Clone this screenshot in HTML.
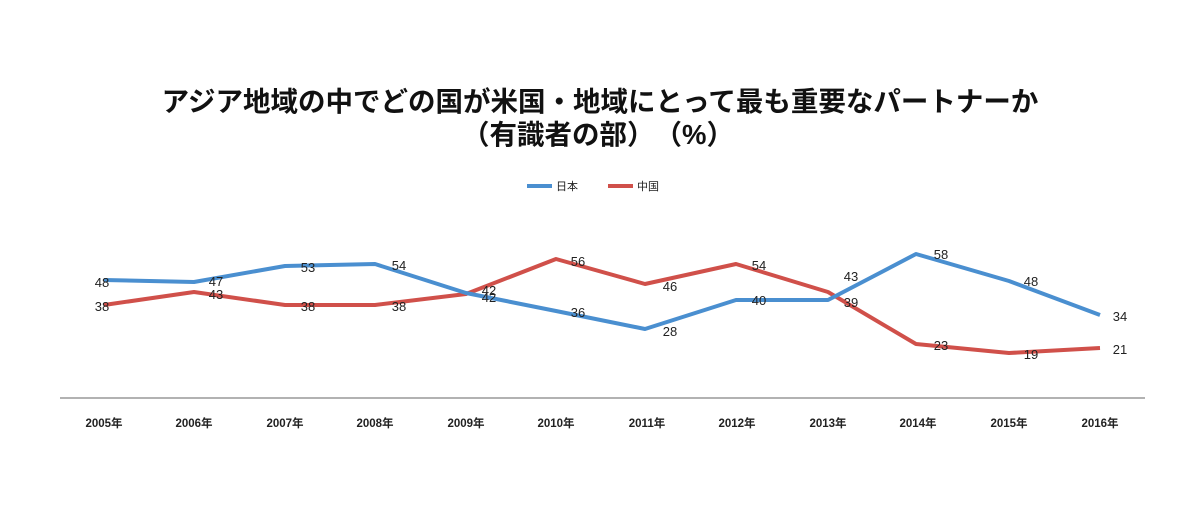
<!DOCTYPE html>
<html><head><meta charset="utf-8"><style>
body{margin:0;background:#fff;}
svg{display:block;font-family:"Liberation Sans","Noto Sans CJK JP",sans-serif;}
</style></head><body>
<svg width="1200" height="521" viewBox="0 0 1200 521">
<text x="600" y="111" text-anchor="middle" font-size="27.5" font-weight="bold" fill="#111">アジア地域の中でどの国が米国・地域にとって最も重要なパートナーか</text>
<text x="598" y="144" text-anchor="middle" font-size="27.5" font-weight="bold" fill="#111">（有識者の部）　（%）</text>
<line x1="527" y1="186" x2="552" y2="186" stroke="#4a8fd0" stroke-width="4"/>
<text x="556" y="190" font-size="11" fill="#222">日本</text>
<line x1="608" y1="186" x2="633" y2="186" stroke="#d0504a" stroke-width="4"/>
<text x="637" y="190" font-size="11" fill="#222">中国</text>
<line x1="60" y1="398" x2="1145" y2="398" stroke="#999" stroke-width="1.5"/>
<g font-size="11.5" font-weight="bold" fill="#222" text-anchor="middle">
<text x="104" y="427">2005年</text><text x="194" y="427">2006年</text><text x="285" y="427">2007年</text><text x="375" y="427">2008年</text><text x="466" y="427">2009年</text><text x="556" y="427">2010年</text><text x="647" y="427">2011年</text><text x="737" y="427">2012年</text><text x="828" y="427">2013年</text><text x="918" y="427">2014年</text><text x="1009" y="427">2015年</text><text x="1100" y="427">2016年</text>
</g>
<polyline fill="none" stroke="#d0504a" stroke-width="4" stroke-linejoin="round" points="104,305 194,292 285,305 375,305 466,294 556,259 645,284 736,264 828,292 916,344 1009,353 1100,348"/>
<polyline fill="none" stroke="#4a8fd0" stroke-width="4" stroke-linejoin="round" points="104,280 194,282 285,266 375,264 466,293 556,311 645,329 736,300 828,300 916,254 1009,281 1100,315"/>
<g font-size="13" fill="#222" text-anchor="middle">
<text x="102" y="287">48</text><text x="216" y="286">47</text><text x="308" y="272">53</text><text x="399" y="270">54</text><text x="489" y="295">42</text><text x="578" y="317">36</text><text x="670" y="336">28</text><text x="759" y="305">40</text><text x="851" y="281">43</text><text x="941" y="259">58</text><text x="1031" y="286">48</text><text x="1120" y="321">34</text>
<text x="102" y="311">38</text><text x="216" y="299">43</text><text x="308" y="311">38</text><text x="399" y="311">38</text><text x="489" y="302">42</text><text x="578" y="266">56</text><text x="670" y="291">46</text><text x="759" y="270">54</text><text x="851" y="307">39</text><text x="941" y="350">23</text><text x="1031" y="359">19</text><text x="1120" y="354">21</text>
</g>
</svg>
</body></html>
